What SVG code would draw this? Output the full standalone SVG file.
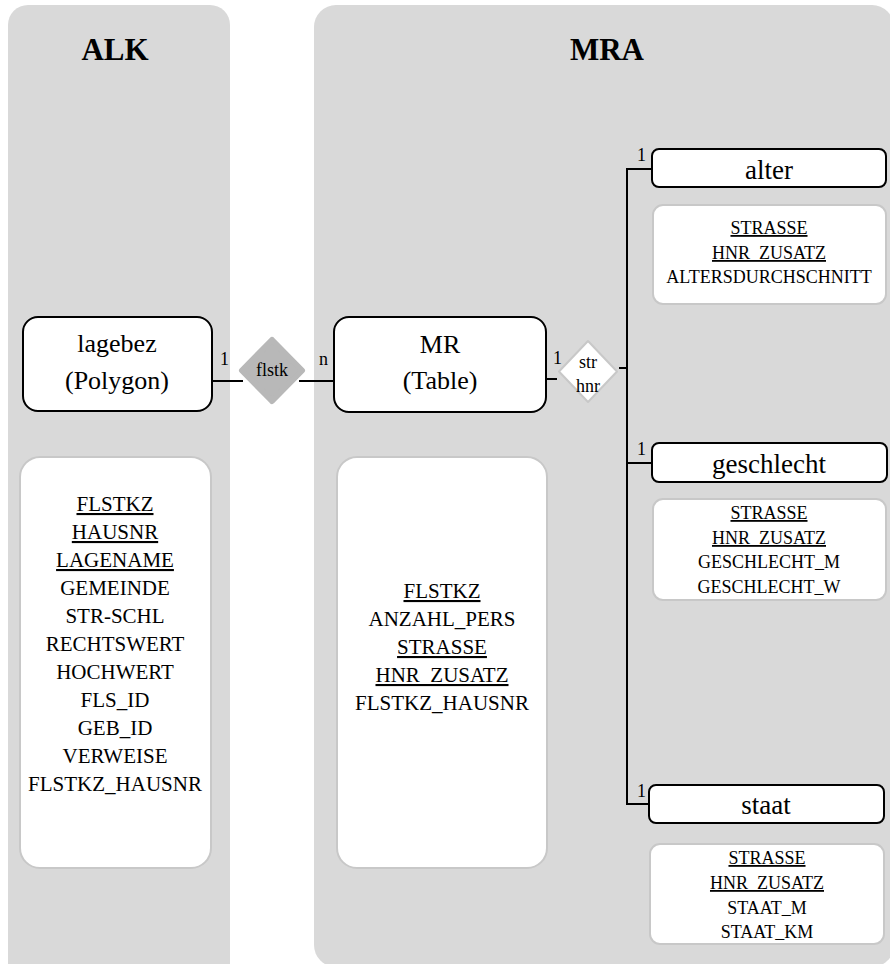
<svg xmlns="http://www.w3.org/2000/svg" width="890" height="964" viewBox="0 0 890 964">
<style>
text{font-family:"Times New Roman","Liberation Serif",serif;fill:#000;text-anchor:middle}
.panel{fill:#d9d9d9}
.title{font-size:31px;font-weight:bold}
.ent{fill:#fff;stroke:#000;stroke-width:2}
.attr{fill:#fff;stroke:#c8c8c8;stroke-width:2}
.big{font-size:26px}
.a21{font-size:21px}
.a18{font-size:18px}
.u{text-decoration:underline}
.lbl{font-size:18px;text-anchor:start}
.conn{fill:none;stroke:#000;stroke-width:2}
</style>
<g id="panel-alk">
<rect class="panel" x="8" y="5" width="222" height="980" rx="20"/>
<text class="title" x="115" y="60">ALK</text>
</g>
<g id="panel-mra">
<rect class="panel" x="314" y="5" width="580" height="962" rx="22"/>
<text class="title" x="607" y="60">MRA</text>
</g>
<g id="connectors">
<path class="conn" d="M212 381H243M299 381H334"/>
<path class="conn" d="M546 379H557"/>
<path class="conn" d="M619 368H627M652 169H627V804H649M627 463H652"/>
<text class="lbl" x="220" y="365">1</text>
<text class="lbl" x="319" y="365">n</text>
<text class="lbl" x="553" y="364">1</text>
<text class="lbl" x="637" y="161">1</text>
<text class="lbl" x="637" y="455">1</text>
<text class="lbl" x="637" y="797">1</text>
</g>
<g id="lagebez">
<rect class="ent" x="23" y="317" width="189" height="94" rx="15"/>
<text class="big" x="117" y="352">lagebez</text>
<text class="big" x="117" y="389">(Polygon)</text>
</g>
<g id="lagebez-attrs">
<rect class="attr" x="20" y="457" width="191" height="411" rx="20"/>
<text class="a21" x="115"><tspan class="u" x="115" y="511">FLSTKZ</tspan><tspan class="u" x="115" y="539">HAUSNR</tspan><tspan class="u" x="115" y="567">LAGENAME</tspan><tspan x="115" y="595">GEMEINDE</tspan><tspan x="115" y="623">STR-SCHL</tspan><tspan x="115" y="651">RECHTSWERT</tspan><tspan x="115" y="679">HOCHWERT</tspan><tspan x="115" y="707">FLS_ID</tspan><tspan x="115" y="735">GEB_ID</tspan><tspan x="115" y="763">VERWEISE</tspan><tspan x="115" y="791">FLSTKZ_HAUSNR</tspan></text>
</g>
<g id="flstk">
<path d="M272 340L302 370.5L272 401L242 370.5Z" fill="#b8b8b8" stroke="#b8b8b8" stroke-width="6" stroke-linejoin="round"/>
<text class="a18" x="272" y="376">flstk</text>
</g>
<g id="mr">
<rect class="ent" x="334" y="317" width="212" height="95" rx="15"/>
<text class="big" x="440" y="353">MR</text>
<text class="big" x="440" y="389">(Table)</text>
</g>
<g id="mr-attrs">
<rect class="attr" x="337" y="457" width="210" height="411" rx="20"/>
<text class="a21" x="442"><tspan class="u" x="442" y="598">FLSTKZ</tspan><tspan x="442" y="626">ANZAHL_PERS</tspan><tspan class="u" x="442" y="654">STRASSE</tspan><tspan class="u" x="442" y="682">HNR_ZUSATZ</tspan><tspan x="442" y="710">FLSTKZ_HAUSNR</tspan></text>
</g>
<g id="strhnr">
<path d="M588 341L617 371.5L588 402L559 371.5Z" fill="#fff" stroke="#c8c8c8" stroke-width="2" stroke-linejoin="round"/>
<text class="a18" x="588" y="368">str</text>
<text class="a18" x="588" y="392">hnr</text>
</g>
<g id="alter">
<rect class="ent" x="652" y="149" width="234" height="38" rx="7"/>
<text x="769" y="179" style="font-size:27px">alter</text>
</g>
<g id="alter-attrs">
<rect class="attr" x="653" y="205" width="233" height="99" rx="10"/>
<text class="a18" x="769"><tspan class="u" x="769" y="234">STRASSE</tspan><tspan class="u" x="769" y="259">HNR_ZUSATZ</tspan><tspan x="769" y="283">ALTERSDURCHSCHNITT</tspan></text>
</g>
<g id="geschlecht">
<rect class="ent" x="652" y="443" width="235" height="39" rx="7"/>
<text x="769" y="473" style="font-size:27px">geschlecht</text>
</g>
<g id="geschlecht-attrs">
<rect class="attr" x="653" y="499" width="233" height="101" rx="10"/>
<text class="a18" x="769"><tspan class="u" x="769" y="519">STRASSE</tspan><tspan class="u" x="769" y="544">HNR_ZUSATZ</tspan><tspan x="769" y="568">GESCHLECHT_M</tspan><tspan x="769" y="593">GESCHLECHT_W</tspan></text>
</g>
<g id="staat">
<rect class="ent" x="649" y="785" width="235" height="38" rx="7"/>
<text x="766" y="814" style="font-size:27px">staat</text>
</g>
<g id="staat-attrs">
<rect class="attr" x="650" y="844" width="234" height="100" rx="10"/>
<text class="a18" x="767"><tspan class="u" x="767" y="864">STRASSE</tspan><tspan class="u" x="767" y="889">HNR_ZUSATZ</tspan><tspan x="767" y="914">STAAT_M</tspan><tspan x="767" y="938">STAAT_KM</tspan></text>
</g>
</svg>
